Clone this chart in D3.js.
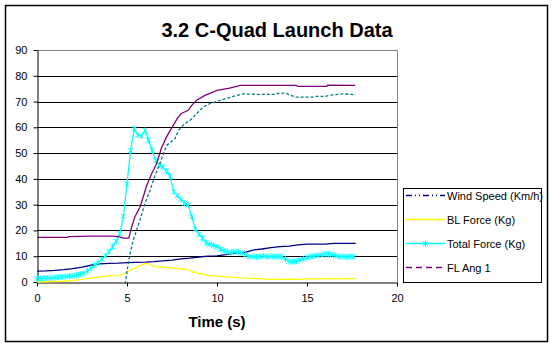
<!DOCTYPE html>
<html>
<head>
<meta charset="utf-8">
<script src="https://cdn.jsdelivr.net/npm/d3@7"></script>
<style>
    body { margin: 0; background: #fff; }
    text { font-family: Arial, "Liberation Sans", sans-serif; }
</style>
</head>
<body>
<div id="chart-area"></div>
<script>

// x ticks / y ticks
let xTicks = [0, 5, 10, 15, 20];
let yTicks = [0, 10, 20, 30, 40, 50, 60, 70, 80, 90];

// legend labels
let seriesNames = ['Wind Speed (Km/h)', 'BL Force (Kg)', 'Total Force (Kg)', 'FL Ang 1'];

// Wind Speed (Km/h)
let windTime  = [0, 0.5, 1, 1.5, 2, 2.5, 3, 3.5, 4, 4.5, 5, 5.5, 6, 6.5, 7, 7.5, 8, 8.5, 9, 9.5, 10, 10.5, 11, 11.5, 12, 12.5, 13, 13.5, 14, 14.5, 15, 15.5, 16, 16.5, 17, 17.7];
let windSpeed = [4.2, 4.3, 4.5, 4.8, 5.2, 5.8, 6.5, 7.0, 7.2, 7.3, 7.5, 7.6, 7.7, 7.9, 8.2, 8.5, 9.0, 9.3, 9.7, 10.0, 10.1, 10.6, 11.2, 11.4, 12.4, 12.8, 13.3, 13.7, 13.9, 14.4, 14.7, 14.7, 14.7, 15.0, 15.0, 15.0];

// BL Force (Kg)
let blTime  = [0, 0.5, 1, 1.5, 2, 2.5, 3, 3.5, 4, 4.5, 4.8, 5, 5.3, 5.6, 6, 6.2, 6.5, 7, 7.5, 8, 8.3, 8.5, 8.8, 9, 9.5, 10, 10.5, 11, 11.5, 12, 12.5, 13, 13.5, 14, 14.5, 15, 15.5, 16, 16.5, 17, 17.7];
let blForce = [0, 0.1, 0.2, 0.3, 0.6, 1.0, 1.5, 2.0, 2.4, 2.5, 3.0, 4.0, 5.0, 6.0, 7.2, 7.0, 6.0, 5.8, 5.5, 5.0, 5.0, 4.4, 3.6, 3.3, 2.6, 2.4, 2.0, 1.8, 1.5, 1.4, 1.2, 1.0, 1.0, 1.1, 1.0, 1.2, 1.2, 1.3, 1.3, 1.2, 1.4];

// Total Force (Kg), sampled every 0.2 s
let totalTime  = [0, 0.2, 0.4, 0.6, 0.8, 1, 1.2, 1.4, 1.6, 1.8, 2, 2.2, 2.4, 2.6, 2.8, 3, 3.2, 3.4, 3.6, 3.8, 4, 4.2, 4.4, 4.6, 4.8, 5, 5.2, 5.4, 5.6, 5.8, 6, 6.2, 6.4, 6.6, 6.8, 7, 7.2, 7.4, 7.6, 7.8, 8, 8.2, 8.4, 8.6, 8.8, 9, 9.2, 9.4, 9.6, 9.8, 10, 10.2, 10.4, 10.6, 10.8, 11, 11.2, 11.4, 11.6, 11.8, 12, 12.2, 12.4, 12.6, 12.8, 13, 13.2, 13.4, 13.6, 13.8, 14, 14.2, 14.4, 14.6, 14.8, 15, 15.2, 15.4, 15.6, 15.8, 16, 16.2, 16.4, 16.6, 16.8, 17, 17.2, 17.4, 17.6];
let totalForce = [1.4, 1.3, 1.5, 1.6, 1.5, 1.8, 1.9, 2.0, 2.1, 2.3, 2.4, 2.6, 3.0, 3.4, 4.3, 5.3, 6.5, 7.5, 8.8, 10.2, 11.8, 13.7, 15.8, 18.8, 25.5, 38, 51, 59.5, 57, 56.6, 58.8, 55, 51, 47, 45.3, 44.6, 43, 41, 35, 33.5, 32, 30.5, 29.8, 25.3, 20.5, 18.5, 17, 15.2, 14.6, 14.2, 13.7, 12.8, 12.0, 11.7, 11.5, 11.8, 11.6, 11.3, 10.5, 9.8, 9.9, 9.7, 9.9, 10.1, 9.8, 10.0, 9.9, 9.8, 9.8, 8.9, 8.0, 7.8, 8.2, 8.6, 8.9, 9.5, 9.9, 10.1, 10.3, 10.5, 10.8, 10.9, 10.6, 10.2, 9.8, 9.9, 9.7, 9.9, 9.8];

// FL Ang 1
let flTime  = [0, 1.7, 1.75, 3, 4.2, 4.6, 4.8, 5.1, 5.26, 5.44, 5.72, 5.9, 6.1, 6.37, 6.65, 6.9, 7.2, 7.5, 7.8, 8.0, 8.4, 8.6, 8.87, 9.33, 10, 10.7, 11.3, 14.4, 14.5, 16.1, 16.15, 17.67];
let flAngle = [17.3, 17.3, 17.6, 17.8, 17.8, 17.5, 17.0, 17.0, 21.4, 25.3, 29, 33, 37.5, 42, 46, 51.8, 56.3, 60, 63.5, 65.3, 66.6, 68.5, 70.5, 72.4, 74.3, 75.2, 76.3, 76.3, 75.9, 75.9, 76.4, 76.3];

// fifth series (not listed in the legend)
let fl2Time  = [4.9, 5.07, 5.17, 5.35, 5.72, 6, 6.28, 6.56, 6.83, 7.2, 7.67, 7.85, 8.2, 8.5, 8.87, 9.24, 9.6, 10.17, 10.9, 11.46, 12.2, 13.3, 13.4, 13.8, 14.1, 14.4, 15.3, 15.5, 16, 16.3, 17, 17.7];
let fl2Angle = [-0.8, 7.2, 11, 16.3, 24, 30.5, 35.6, 41.4, 46, 53, 55.6, 58.8, 61.4, 62.7, 65.3, 67.9, 69.2, 70.5, 72, 73, 72.8, 72.8, 73.3, 73.3, 72.4, 71.7, 71.7, 72, 72, 72.5, 73, 72.6];


class LaunchChart {

    constructor(parentElement) {
        this.parentElement = parentElement;

        // define colors
        this.colors = ['#000080', '#FFFF00', '#00FFFF', '#800080', '#008080'];

        this.initVis();
    }

    initVis() {
        let vis = this;

        vis.width = 553;
        vis.height = 351;
        vis.plot = {left: 37, right: 397, top: 50, bottom: 282};

        // init drawing area
        vis.svg = d3.select("#" + vis.parentElement).append("svg")
            .attr("width", vis.width)
            .attr("height", vis.height);

        // chart border
        vis.svg.append("rect")
            .attr("x", 5.5).attr("y", 5.5)
            .attr("width", 542).attr("height", 336)
            .attr("fill", "white")
            .attr("stroke", "black")
            .attr("stroke-width", 1.5);

        // title
        vis.svg.append("text")
            .attr("x", 277).attr("y", 37)
            .attr("text-anchor", "middle")
            .style("font-size", "20px")
            .style("font-weight", "bold")
            .text("3.2 C-Quad Launch Data");

        vis.x = d3.scaleLinear().domain([0, 20]).range([vis.plot.left, vis.plot.right]);
        vis.y = d3.scaleLinear().domain([0, 90]).range([vis.plot.bottom, vis.plot.top]);

        // gridlines
        vis.svg.append("g")
            .selectAll("line")
            .data(yTicks.filter(d => d > 0 && d < 90))
            .enter().append("line")
            .attr("x1", vis.plot.left).attr("x2", vis.plot.right)
            .attr("y1", d => Math.round(vis.y(d)) + 0.5)
            .attr("y2", d => Math.round(vis.y(d)) + 0.5)
            .attr("stroke", "black");

        // grey plot frame (top + right)
        vis.svg.append("path")
            .attr("d", `M${vis.plot.left},${vis.plot.top + 0.5}H${vis.plot.right + 0.5}V${vis.plot.bottom}`)
            .attr("fill", "none")
            .attr("stroke", "#808080");

        // axes
        let xAxis = d3.axisBottom(vis.x).tickValues(xTicks).tickSize(4).tickSizeOuter(0);
        let yAxis = d3.axisLeft(vis.y).tickValues(yTicks).tickSize(4).tickSizeOuter(0);

        vis.svg.append("g")
            .attr("transform", `translate(0, ${vis.plot.bottom + 0.5})`)
            .call(xAxis)
            .call(g => g.selectAll("text").attr("dy", "1.1em").style("font-size", "11px").attr("fill", "black"))
            .call(g => g.selectAll("line, path").attr("stroke", "black"));

        vis.svg.append("g")
            .attr("transform", `translate(${vis.plot.left + 0.5}, 0)`)
            .call(yAxis)
            .call(g => g.selectAll("text").attr("x", -10).style("font-size", "11px").attr("fill", "black"))
            .call(g => g.selectAll("line, path").attr("stroke", "black"));

        // x axis title
        vis.svg.append("text")
            .attr("x", 217).attr("y", 327)
            .attr("text-anchor", "middle")
            .style("font-size", "15px")
            .style("font-weight", "bold")
            .text("Time (s)");

        vis.line = d3.line()
            .x(d => vis.x(d[0]))
            .y(d => vis.y(d[1]));

        vis.star = "M-2.5,-2.5L2.5,2.5M-2.5,2.5L2.5,-2.5M0,-3L0,3";

        vis.wrangleData();
    }

    wrangleData() {
        let vis = this;

        vis.series = [
            {name: seriesNames[0], values: d3.zip(windTime, windSpeed), color: vis.colors[0], dash: null},
            {name: seriesNames[1], values: d3.zip(blTime, blForce), color: vis.colors[1], dash: null},
            {name: seriesNames[2], values: d3.zip(totalTime, totalForce), color: vis.colors[2], dash: null, marker: true},
            {name: seriesNames[3], values: d3.zip(flTime, flAngle), color: vis.colors[3], dash: null},
            {name: null, values: d3.zip(fl2Time, fl2Angle), color: vis.colors[4], dash: "3,2"}
        ];

        vis.updateVis();
    }

    updateVis() {
        let vis = this;

        // draw lines
        vis.series.forEach(s => {
            vis.svg.append("path")
                .datum(s.values)
                .attr("fill", "none")
                .attr("stroke", s.color)
                .attr("stroke-width", 1.3)
                .attr("stroke-dasharray", s.dash)
                .attr("d", vis.line);

            if (s.marker) {
                vis.svg.append("g")
                    .selectAll("path")
                    .data(s.values)
                    .enter().append("path")
                    .attr("transform", d => `translate(${vis.x(d[0])}, ${vis.y(d[1])})`)
                    .attr("d", vis.star)
                    .attr("fill", "none")
                    .attr("stroke", s.color)
                    .attr("stroke-width", 1);
            }
        });

        // legend
        vis.legend = vis.svg.append("g").attr("class", "legend");

        vis.legend.append("rect")
            .attr("x", 403.5).attr("y", 188.5)
            .attr("width", 138).attr("height", 94)
            .attr("fill", "white")
            .attr("stroke", "black");

        let legendDash = ["6,3,1,3,1,3", null, null, "6,4"];
        let rows = vis.legend.selectAll(".row")
            .data(vis.series.slice(0, 4))
            .enter().append("g")
            .attr("class", "row")
            .attr("transform", (d, i) => `translate(406, ${195.5 + i * 24})`);

        rows.append("line")
            .attr("x1", 0).attr("x2", 39)
            .attr("stroke", d => d.color)
            .attr("stroke-width", 1.3)
            .attr("stroke-dasharray", (d, i) => legendDash[i]);

        rows.filter(d => d.marker).append("path")
            .attr("transform", "translate(19.5, 0)")
            .attr("d", vis.star)
            .attr("fill", "none")
            .attr("stroke", d => d.color);

        rows.append("text")
            .attr("x", 41).attr("y", 4)
            .style("font-size", "11px")
            .text(d => d.name);
    }
}

new LaunchChart("chart-area");
</script>
</body>
</html>
